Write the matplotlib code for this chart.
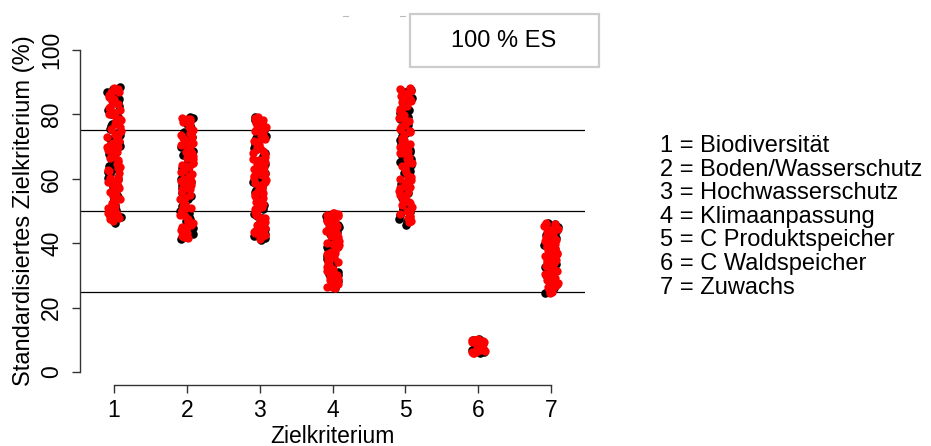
import matplotlib
matplotlib.use("Agg")
import matplotlib.pyplot as plt
from matplotlib.patches import Rectangle
from matplotlib.lines import Line2D
import numpy as np

plt.rcParams['font.family'] = ['Liberation Sans', 'DejaVu Sans']

categories = [1, 2, 3, 4, 5, 6, 7]
legend_lines = ["1 = Biodiversität", "2 = Boden/Wasserschutz", "3 = Hochwasserschutz",
                "4 = Klimaanpassung", "5 = C Produktspeicher", "6 = C Waldspeicher",
                "7 = Zuwachs"]
ref_lines = [25, 50, 75]
box_label = "100 % ES"

black_1 = [72.4, 55.1, 88.6, 63.0, 47.2, 81.3, 59.8, 76.5, 50.4, 84.9, 67.7, 53.6, 79.2, 61.5, 46.3,
           86.8, 70.1, 57.4, 74.3, 49.0, 82.7, 65.2, 52.0, 78.0, 60.3, 87.5, 68.9, 48.1, 75.6, 56.7,
           83.8, 64.1, 51.2, 80.0, 71.3, 58.6, 85.7, 62.2, 54.3, 77.1, 66.5, 73.5, 48.9, 69.8, 87.9]
red_1 = [60.7, 84.2, 49.5, 71.8, 88.2, 56.0, 77.8, 63.6, 47.0, 81.9, 68.2, 53.0, 86.1, 74.8, 58.1,
         65.8, 50.8, 79.6, 87.0, 61.9, 72.9, 55.4, 83.1, 48.4, 69.4, 76.2, 52.6, 85.3, 64.7, 57.9,
         80.6, 70.6, 47.8, 74.0, 62.8, 88.0, 54.8, 78.7, 66.9, 51.5, 82.3, 59.2, 73.7, 85.9, 67.3,
         75.4, 50.1, 86.8, 62.3, 69.9, 55.8, 81.2, 47.4, 73.2, 58.9, 84.7, 65.3, 52.0, 78.2, 60.1,
         87.6, 70.0, 49.0, 83.6, 57.0, 66.4, 76.9, 53.8, 80.1, 63.2, 71.2, 48.8, 85.1, 59.7, 68.8]
black_2 = [63.2, 45.0, 78.8, 52.7, 70.4, 41.3, 58.9, 74.6, 48.2, 66.1, 55.5, 77.0, 43.6, 61.4, 72.3,
           50.1, 68.7, 46.8, 79.1, 57.2, 64.9, 42.4, 53.8, 75.8, 60.0, 49.3, 71.6, 44.7, 67.4, 56.3,
           76.4, 51.4, 62.6, 41.9, 73.1, 59.5, 47.5, 69.9, 54.6, 78.0, 65.5, 43.0, 58.1, 74.0, 50.9]
red_2 = [56.8, 72.0, 44.1, 66.8, 78.5, 49.9, 61.0, 75.2, 42.0, 53.3, 69.2, 58.4, 77.6, 46.2, 63.9,
         51.0, 73.6, 41.5, 59.9, 67.9, 48.8, 76.9, 55.0, 64.3, 43.3, 71.0, 52.2, 79.0, 60.6, 45.7,
         68.3, 57.6, 74.8, 47.0, 62.1, 78.1, 54.1, 65.0, 42.7, 70.2, 50.4, 76.0, 58.0, 44.9, 66.4,
         62.8, 47.6, 73.0, 55.9, 78.7, 43.9, 66.0, 51.6, 70.8, 59.2, 45.1, 75.6, 57.1, 64.9, 42.3,
         69.6, 53.6, 77.3, 48.4, 61.6, 72.6, 46.5, 67.2, 56.4, 74.2, 50.9, 63.7, 41.8, 59.3, 70.5]
black_3 = [70.9, 47.3, 61.8, 78.7, 53.5, 42.2, 66.6, 74.1, 57.7, 44.3, 79.2, 63.4, 50.6, 72.7, 41.1,
           59.1, 68.0, 46.0, 76.2, 55.9, 64.6, 48.5, 77.5, 52.0, 69.5, 43.8, 60.4, 73.4, 56.6, 45.3,
           67.1, 78.3, 51.7, 62.9, 41.6, 71.9, 58.7, 49.1, 75.1, 54.2, 65.7, 42.9, 69.0, 47.9, 60.0]
red_3 = [58.3, 75.7, 43.4, 65.3, 51.9, 78.9, 61.2, 46.6, 71.4, 55.2, 68.5, 41.4, 77.2, 59.6, 48.0,
         73.0, 63.1, 53.0, 79.0, 44.6, 66.2, 57.0, 74.4, 49.7, 62.4, 42.6, 70.0, 54.5, 76.6, 47.2,
         64.0, 52.8, 72.2, 41.8, 60.8, 78.2, 56.1, 67.6, 45.5, 69.7, 50.7, 75.0, 62.0, 43.9, 57.5,
         69.1, 44.0, 59.0, 74.9, 52.3, 65.9, 47.8, 77.9, 56.7, 71.8, 42.2, 63.6, 50.0, 76.1, 58.8,
         45.9, 68.0, 54.0, 79.1, 61.5, 48.7, 73.3, 66.7, 43.1, 55.6, 70.7, 51.3, 64.5, 75.9, 60.3]
black_4 = [38.2, 27.1, 45.6, 32.4, 49.2, 35.0, 29.3, 42.8, 26.2, 40.1, 47.4, 33.7, 44.0, 30.5, 37.3,
           48.5, 28.4, 41.5, 34.6, 46.7, 31.2, 39.4, 26.8, 43.5, 36.1, 49.0, 29.9, 45.0, 33.0, 41.0,
           27.7, 38.8, 47.9, 35.7, 30.0, 43.0]
red_4 = [44.6, 31.8, 48.9, 27.4, 39.9, 35.4, 46.1, 29.0, 42.2, 26.5, 37.8, 49.4, 33.3, 40.7, 28.1,
         45.3, 36.6, 30.9, 47.7, 34.2, 43.9, 26.0, 38.5, 48.1, 32.0, 41.8, 29.6, 46.9, 36.9, 27.9,
         44.2, 34.9, 39.1, 49.5, 31.4, 42.5,
         37.2, 48.4, 28.7, 43.2, 33.9, 46.5, 30.2, 40.2, 27.0, 45.8, 35.8, 49.0, 32.6, 41.1, 26.3,
         38.9, 44.9, 29.3, 47.3, 36.2, 42.9, 31.0, 39.5, 34.5]
black_5 = [75.1, 52.3, 87.4, 61.7, 45.8, 80.5, 68.3, 56.9, 84.6, 49.6, 72.0, 63.9, 86.2, 54.1, 77.6,
           47.5, 66.0, 82.1, 59.5, 70.7, 88.0, 51.0, 74.2, 62.5, 48.8, 79.3, 57.8, 85.0, 67.2, 53.7,
           81.4, 65.1, 46.9, 73.3, 60.2, 87.0, 55.6, 78.4, 69.0, 50.3, 83.5, 64.4, 58.4, 76.8, 71.5]
red_5 = [66.7, 83.0, 49.2, 74.6, 58.0, 87.7, 61.0, 46.8, 79.9, 54.9, 70.3, 85.5, 51.8, 64.8, 77.0,
         48.0, 81.8, 59.0, 72.6, 88.1, 56.2, 68.6, 47.4, 76.1, 62.9, 84.0, 53.4, 70.0, 86.6, 50.0,
         63.3, 78.9, 57.3, 82.7, 67.9, 46.5, 73.9, 60.5, 86.0, 55.0, 80.8, 65.6, 52.6, 75.5, 69.7,
         71.7, 49.9, 84.9, 60.0, 77.8, 53.9, 87.2, 64.1, 47.9, 81.0, 57.9, 74.9, 68.0, 51.2, 85.8,
         62.0, 79.0, 55.8, 72.0, 48.6, 83.9, 66.0, 59.7, 87.9, 52.9, 76.7, 64.9, 82.0, 70.9, 57.0]
black_6 = [7.2, 9.6, 6.1, 8.4, 10.2, 6.8, 9.0, 7.7, 5.9, 8.9, 10.0, 7.0, 8.1, 6.4]
red_6 = [8.8, 6.3, 9.9, 7.4, 10.3, 6.0, 8.2, 9.4, 7.0, 5.8, 9.1, 7.9, 10.1, 6.6,
         7.6, 9.7, 6.2, 8.5, 10.0, 7.2, 9.2, 6.9, 8.0, 9.8]
black_7 = [35.3, 26.0, 44.2, 30.8, 40.6, 24.5, 38.0, 46.3, 28.9, 33.5, 42.7, 25.7, 36.9, 45.0, 31.7,
           39.4, 27.3, 43.3, 34.2, 29.8, 41.5, 24.9, 37.6, 46.0, 32.6, 40.0, 26.6, 44.9, 35.9, 28.2,
           42.1, 30.1, 38.7, 25.3, 43.8, 33.0]
red_7 = [41.2, 29.4, 45.8, 34.7, 25.0, 39.0, 43.6, 31.3, 36.4, 46.4, 27.6, 40.3, 33.8, 44.5, 24.4,
         38.4, 30.4, 42.9, 35.6, 26.9, 45.3, 32.2, 39.8, 28.5, 44.0, 37.1, 25.8, 41.9, 34.0, 46.1,
         30.9, 38.9, 27.1, 43.1, 36.0, 29.1,
         33.1, 44.8, 26.3, 39.4, 30.0, 42.4, 35.2, 46.0, 28.0, 37.9, 24.8, 41.0, 32.8, 45.0, 29.7,
         36.7, 43.4, 26.0, 40.7, 31.8, 38.1, 44.1, 27.8, 34.4]

jitter_black = [-0.06, 0.04, 0.08, -0.02, 0.01, -0.08, 0.06, -0.04, 0.03, 0.07, -0.07, 0.00, 0.05,
                -0.05, 0.02, -0.09, 0.08, -0.01, 0.04, -0.06, 0.07, -0.03, 0.01, 0.06, -0.08, 0.03,
                -0.02, 0.09, -0.05, 0.00, 0.05, -0.07, 0.02, -0.04, 0.07, -0.01, 0.04, -0.08, 0.06,
                -0.03, 0.01, 0.08, -0.06, 0.03, -0.02]
jitter_red = [0.05, -0.03, -0.08, 0.07, 0.00, -0.06, 0.03, 0.08, -0.02, -0.07, 0.04, 0.01, -0.05,
              0.09, -0.01, 0.06, -0.08, 0.02, -0.04, 0.07, -0.09, 0.03, 0.05, -0.06, 0.00, 0.08,
              -0.03, -0.07, 0.04, 0.06, -0.01, -0.05, 0.07, 0.02, -0.08, 0.05, -0.02, 0.08, -0.04,
              0.01, -0.06, 0.03, 0.06, -0.07, 0.00,
              -0.04, 0.02, 0.07, -0.07, 0.05, -0.01, 0.08, -0.05, 0.03, -0.08, 0.00, 0.06, -0.03,
              0.09, -0.06, 0.01, -0.09, 0.04, -0.02, 0.07, -0.05, 0.02, 0.08, -0.07, 0.05, -0.01,
              0.03, -0.04, 0.06, -0.08]

black_series = [black_1, black_2, black_3, black_4, black_5, black_6, black_7]
red_series = [red_1, red_2, red_3, red_4, red_5, red_6, red_7]

W, H = 931, 446
fig = plt.figure(figsize=(W / 100, H / 100), dpi=100)

# axes region in pixels: x 80..585, y 37..385
ax = fig.add_axes([80 / W, (H - 385) / H, 505 / W, 348 / H])
ax.set_xlim(0.533, 7.467)
ax.set_ylim(-4, 104)

for rl in ref_lines:
    ax.axhline(rl, color='black', lw=0.9, zorder=1)

for k, ys in zip(categories, black_series):
    n = min(len(ys), len(jitter_black))
    ax.scatter(k + np.array(jitter_black[:n]), ys[:n], s=38, color='black', linewidths=0, zorder=2)
for k, ys in zip(categories, red_series):
    n = min(len(ys), len(jitter_red))
    ax.scatter(k + np.array(jitter_red[:n]), ys[:n], s=36, color='#ff0000', linewidths=0, zorder=3)

for s in ['top', 'right']:
    ax.spines[s].set_visible(False)
ax.spines['left'].set_bounds(0, 100)
ax.spines['bottom'].set_bounds(1, 7)
for s in ['left', 'bottom']:
    ax.spines[s].set_color('#333333')
    ax.spines[s].set_linewidth(1.0)

ax.set_xticks(categories)
ax.set_yticks([0, 20, 40, 60, 80, 100])
ax.tick_params(axis='both', direction='out', length=6, width=1.0, color='#333333',
               labelsize=16.5, pad=4)
ax.tick_params(axis='y', pad=6)
for lab in ax.get_yticklabels():
    lab.set_rotation(90)
    lab.set_va('center')
ax.set_xlabel("Zielkriterium", fontsize=16.5, labelpad=2)
ax.set_ylabel("Standardisiertes Zielkriterium (%)", fontsize=17, labelpad=4)

# box label
fig.patches.append(Rectangle((410 / W, (H - 67) / H), 189 / W, 53 / H, transform=fig.transFigure,
                             facecolor='white', edgecolor='#cccccc', lw=1.6))
fig.text(504 / W, (H - 41) / H, box_label, fontsize=17, ha='center', va='center')

# faint clipped marks at the top
for x0 in (343, 400):
    fig.lines.append(Line2D([x0 / W, (x0 + 5) / W], [(H - 16) / H, (H - 16) / H],
                            transform=fig.transFigure, color='#bbbbbb', lw=0.8))

# right-hand key
for i, line in enumerate(legend_lines):
    fig.text(660 / W, (H - (146 + 23.6 * i)) / H, line, fontsize=17, ha='left', va='center')

fig.savefig("out.png", dpi=100)
